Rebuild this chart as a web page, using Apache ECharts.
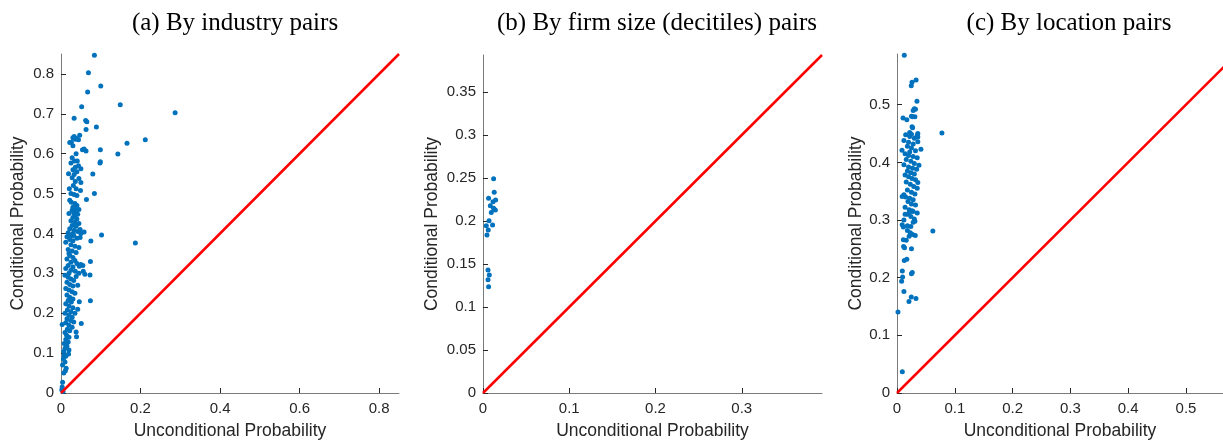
<!DOCTYPE html>
<html>
<head>
<meta charset="utf-8">
<script src="https://cdn.jsdelivr.net/npm/echarts@6/dist/echarts.min.js"></script>
<style>html,body{margin:0;padding:0;background:#fff}#c{width:1223px;height:445px}</style>
</head>
<body>
<div id="c"></div>
<script>
// ---- Data ----
const titles = ['(a) By industry pairs', '(b) By firm size (decitiles) pairs', '(c) By location pairs'];
const xName = 'Unconditional Probability';
const yName = 'Conditional Probability';

const industryPairs = [
  [0.084,0.847],[0.069,0.803],[0.100,0.770],[0.067,0.755],[0.149,0.723],[0.052,0.718],[0.287,0.703],[0.033,0.689],
  [0.062,0.683],[0.065,0.680],[0.089,0.667],[0.063,0.661],[0.166,0.626],[0.212,0.635],[0.143,0.599],[0.099,0.610],
  [0.099,0.580],[0.098,0.577],[0.080,0.549],[0.084,0.500],[0.064,0.485],[0.102,0.396],[0.187,0.376],[0.075,0.381],
  [0.074,0.330],[0.073,0.296],[0.074,0.231],[0.051,0.174],
  [0.033,0.643],[0.026,0.629],[0.030,0.640],[0.036,0.636],[0.040,0.638],[0.047,0.646],[0.030,0.620],[0.038,0.600],
  [0.054,0.610],[0.063,0.607],[0.058,0.612],[0.022,0.628],[0.044,0.635],
  [0.025,0.577],[0.034,0.582],[0.041,0.582],[0.028,0.590],[0.036,0.566],[0.044,0.570],[0.030,0.560],[0.040,0.555],
  [0.050,0.562],[0.019,0.550],[0.033,0.548],
  [0.028,0.540],[0.045,0.538],[0.036,0.530],[0.050,0.528],[0.021,0.512],[0.038,0.512],[0.049,0.508],[0.025,0.500],
  [0.033,0.498],[0.040,0.495],[0.031,0.520],
  [0.022,0.483],[0.026,0.478],[0.035,0.475],[0.036,0.462],[0.037,0.455],[0.032,0.452],[0.020,0.450],[0.042,0.448],
  [0.035,0.445],[0.045,0.460],[0.030,0.466],[0.028,0.458],[0.040,0.470],
  [0.030,0.440],[0.040,0.436],[0.025,0.432],[0.035,0.428],[0.045,0.425],[0.028,0.420],[0.038,0.418],[0.022,0.412],
  [0.033,0.408],[0.042,0.405],[0.018,0.402],[0.030,0.400],[0.050,0.400],[0.026,0.395],[0.058,0.404],[0.048,0.410],
  [0.015,0.392],[0.022,0.385],[0.030,0.382],[0.040,0.388],[0.012,0.378],[0.025,0.372],[0.035,0.368],[0.045,0.365],
  [0.018,0.360],[0.028,0.356],[0.038,0.352],[0.020,0.350],[0.048,0.390],[0.032,0.395],
  [0.022,0.345],[0.030,0.340],[0.015,0.336],[0.035,0.332],[0.025,0.328],[0.040,0.325],[0.018,0.320],[0.050,0.322],
  [0.055,0.320],[0.030,0.316],[0.012,0.312],[0.025,0.308],[0.036,0.305],[0.020,0.300],[0.045,0.300],
  [0.060,0.298],[0.056,0.305],[0.046,0.318],
  [0.010,0.295],[0.018,0.290],[0.025,0.286],[0.032,0.282],[0.015,0.278],[0.022,0.272],[0.030,0.268],[0.012,0.262],
  [0.020,0.258],[0.028,0.254],[0.035,0.250],[0.038,0.292],[0.042,0.270],
  [0.015,0.246],[0.022,0.240],[0.030,0.236],[0.018,0.232],[0.026,0.228],[0.046,0.229],[0.012,0.224],[0.020,0.218],
  [0.030,0.214],[0.042,0.210],[0.016,0.208],[0.025,0.204],[0.035,0.200],[0.010,0.200],
  [0.020,0.195],[0.028,0.190],[0.015,0.186],[0.024,0.182],[0.032,0.178],[0.012,0.176],[0.003,0.172],[0.020,0.170],
  [0.028,0.165],[0.016,0.160],[0.038,0.153],[0.022,0.156],[0.010,0.152],
  [0.039,0.141],[0.014,0.145],[0.020,0.140],[0.012,0.134],[0.018,0.128],[0.008,0.124],[0.015,0.118],[0.010,0.112],
  [0.020,0.108],[0.007,0.104],
  [0.019,0.098],[0.008,0.094],[0.012,0.092],[0.006,0.085],[0.010,0.078],[0.004,0.070],[0.013,0.062],[0.011,0.056],
  [0.007,0.050],[0.004,0.027],[0.003,0.015],[0.002,0.008],[0.005,0.004]
];

const sizePairs = [
  [0.034,0.394],[0.0123,0.249],[0.013,0.2334],[0.0065,0.2263],[0.0116,0.2225],[0.0146,0.2244],[0.0085,0.2178],
  [0.0123,0.2147],[0.0143,0.2128],[0.0130,0.2135],[0.0096,0.210],[0.007,0.2004],[0.0038,0.1946],[0.0111,0.1953],
  [0.0061,0.1895],[0.0046,0.1837],[0.0058,0.143],[0.0073,0.1372],[0.0058,0.1318],[0.0065,0.1236]
];

const locationPairs = [
  [0.0126,0.586],[0.033,0.543],[0.026,0.539],[0.0247,0.533],[0.0345,0.506],[0.030,0.493],[0.032,0.492],[0.028,0.490],
  [0.0104,0.477],[0.017,0.474],[0.025,0.480],[0.027,0.479],[0.031,0.479],[0.026,0.462],[0.027,0.460],[0.0777,0.451],
  [0.022,0.452],[0.025,0.449],[0.036,0.450],[0.036,0.444],
  [0.015,0.448],[0.022,0.445],[0.030,0.442],[0.035,0.447],[0.012,0.438],[0.020,0.435],[0.028,0.432],[0.036,0.436],
  [0.018,0.428],[0.025,0.425],[0.032,0.420],[0.0086,0.421],[0.0414,0.423],[0.022,0.418],[0.014,0.415],
  [0.020,0.412],[0.028,0.410],[0.035,0.408],[0.016,0.405],[0.024,0.402],[0.030,0.398],[0.012,0.396],[0.020,0.392],
  [0.027,0.390],[0.034,0.388],[0.018,0.385],[0.024,0.382],[0.030,0.380],[0.014,0.378],[0.038,0.395],
  [0.020,0.375],[0.026,0.372],[0.032,0.370],[0.016,0.366],[0.023,0.362],[0.029,0.358],[0.035,0.355],[0.018,0.352],
  [0.025,0.348],[0.031,0.345],[0.012,0.344],[0.009,0.341],[0.015,0.340],[0.022,0.338],[0.036,0.365],
  [0.028,0.335],[0.019,0.332],[0.025,0.328],[0.032,0.326],[0.014,0.322],[0.021,0.318],[0.028,0.315],[0.035,0.312],
  [0.018,0.310],[0.024,0.306],[0.030,0.302],[0.012,0.300],
  [0.009,0.292],[0.011,0.288],[0.018,0.290],[0.024,0.289],[0.028,0.296],[0.031,0.298],[0.018,0.282],[0.023,0.278],
  [0.021,0.272],[0.016,0.265],[0.011,0.266],[0.027,0.275],[0.014,0.310],[0.022,0.314],[0.026,0.316],
  [0.062,0.281],[0.0316,0.273],[0.0114,0.254],[0.013,0.252],[0.025,0.250],[0.0126,0.230],[0.017,0.232],[0.0092,0.2116],
  [0.0264,0.209],[0.025,0.207],[0.0097,0.201],[0.008,0.194],[0.012,0.176],[0.0247,0.1666],[0.0328,0.1638],
  [0.0207,0.1587],[0.0017,0.1407],[0.0092,0.0369]
];

const xMax = [0.85, 0.393, 0.564];
const yMax = [0.85, 0.393, 0.588];
const diagEnd = [0.85, 0.393, 0.588];

const xTicksA = [0, 0.2, 0.4, 0.6, 0.8];
const yTicksA = [0, 0.1, 0.2, 0.3, 0.4, 0.5, 0.6, 0.7, 0.8];
const xTicksB = [0, 0.1, 0.2, 0.3];
const yTicksB = [0, 0.05, 0.1, 0.15, 0.2, 0.25, 0.3, 0.35];
const xTicksC = [0, 0.1, 0.2, 0.3, 0.4, 0.5];
const yTicksC = [0, 0.1, 0.2, 0.3, 0.4, 0.5];

// ---- Layout / style ----
const grids = [
  {left: 61, right: 824, top: 54, bottom: 51},
  {left: 483, right: 401, top: 55, bottom: 51},
  {left: 897, right: 0, top: 54, bottom: 51}
];
const titleCenters = [230, 652, 1064];
const yNameGaps = [34, 42, 31];
const datasets = [industryPairs, sizePairs, locationPairs];
const xTicks = [xTicksA, xTicksB, xTicksC];
const yTicks = [yTicksA, yTicksB, yTicksC];

const axisColor = '#7a7a7a';
const textColor = '#262626';
const sans = 'Liberation Sans, Arial, Helvetica, sans-serif';

function fmt(v) { return String(+v.toFixed(3)); }

function makeAxis(i, isX) {
  const ticks = isX ? xTicks[i] : yTicks[i];
  return {
    type: 'value',
    gridIndex: i,
    min: 0,
    max: isX ? xMax[i] : yMax[i],
    name: isX ? xName : yName,
    nameLocation: 'middle',
    nameGap: isX ? 29 : yNameGaps[i],
    nameTextStyle: {color: textColor, fontSize: 17.5, fontFamily: sans},
    axisLine: {show: true, onZero: false, lineStyle: {color: axisColor, width: 1}},
    axisTick: {show: true, inside: true, length: 5, customValues: ticks, lineStyle: {color: textColor, width: 1}},
    axisLabel: {show: true, customValues: ticks, color: textColor, fontSize: 15, fontFamily: sans,
      margin: isX ? 8 : 7, formatter: fmt},
    splitLine: {show: false}
  };
}

const option = {
  animation: false,
  backgroundColor: '#fff',
  title: titles.map((t, i) => ({
    text: t, left: titleCenters[i], top: 6, textAlign: 'center',
    textStyle: {fontFamily: 'Liberation Serif, serif', fontWeight: 'normal', fontSize: 25, color: '#000'}
  })),
  grid: grids,
  xAxis: [0, 1, 2].map(i => makeAxis(i, true)),
  yAxis: [0, 1, 2].map(i => makeAxis(i, false)),
  series: [
    ...datasets.map((d, i) => ({
      type: 'scatter', xAxisIndex: i, yAxisIndex: i, data: d,
      symbol: 'circle', symbolSize: 5, itemStyle: {color: '#0072BD', opacity: 1}, z: 2
    })),
    ...diagEnd.map((m, i) => ({
      type: 'line', xAxisIndex: i, yAxisIndex: i, data: [[0, 0], [m, m]],
      symbol: 'none', clip: true, lineStyle: {color: '#FF0000', width: 2.5}, z: 3
    }))
  ]
};

const chart = echarts.init(document.getElementById('c'), null, {renderer: 'canvas'});
chart.setOption(option);
</script>
</body>
</html>
